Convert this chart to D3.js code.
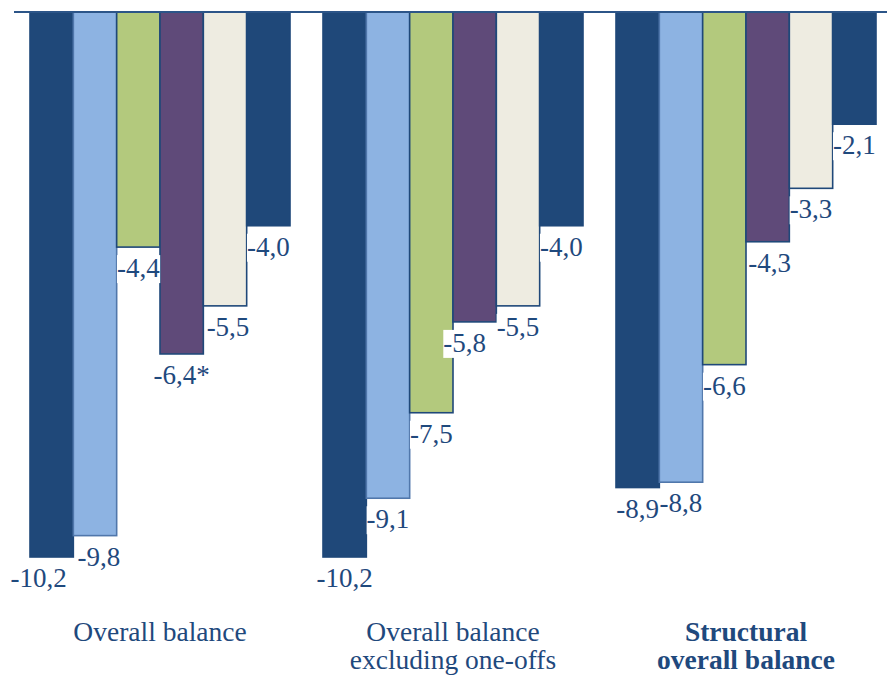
<!DOCTYPE html>
<html>
<head>
<meta charset="utf-8">
<script src="https://cdn.jsdelivr.net/npm/d3@7/dist/d3.min.js"></script>
<style>
  html, body { margin: 0; padding: 0; background: #ffffff; }
  svg { display: block; }
</style>
</head>
<body>
<svg id="chart" width="887" height="676"></svg>
<script>
// Balance measures, per cent of GDP
const groups = ["Overall balance", "Overall balance excluding one-offs", "Structural overall balance"];
const groupLines = [["Overall balance"], ["Overall balance", "excluding one-offs"], ["Structural", "overall balance"]];
const groupBold = [false, false, true];

// six series per group, in draw order
const series1 = [-10.2, -10.2, -8.9];
const series2 = [-9.8, -9.1, -8.8];
const series3 = [-4.4, -7.5, -6.6];
const series4 = [-6.4, -5.8, -4.3];
const series5 = [-5.5, -5.5, -3.3];
const series6 = [-4.0, -4.0, -2.1];
const seriesValues = [series1, series2, series3, series4, series5, series6];
// footnote markers attached to individual labels
const labelNotes = [["", "", ""], ["", "", ""], ["", "", ""], ["*", "", ""], ["", "", ""], ["", "", ""]];

const colors = ["#1f4879", "#8db3e2", "#b3c97d", "#5f4a79", "#eeece1", "#1f4879"];
const strokes = ["#1f4879", "#5077ab", "#1f4879", "#1f4879", "#1f4879", "#1f4879"];
const textColor = "#1f497d";
const font = "'Liberation Serif', 'Times New Roman', serif";

const svg = d3.select("#chart");

const x0 = d3.scaleBand().domain(groups).range([13.5, 892.5])
  .paddingInner(0.1126).paddingOuter(0.0563);
const x1 = d3.scaleBand().domain(d3.range(seriesValues.length)).range([0, x0.bandwidth()]);
const y = d3.scaleLinear().domain([0, -10.2]).range([12, 557]);

const fmt = v => d3.format(".1f")(v).replace(".", ",").replace("−", "-");

// small label nudges where labels are moved off neighbouring bars
const nudge = { "0-0": -13, "1-0": 4, "4-0": 3, "3-1": -10, "3-2": 2 };

const gBars = svg.append("g");
const gLabels = svg.append("g");

groups.forEach((g, gi) => {
  seriesValues.forEach((vals, si) => {
    const v = vals[gi];
    const bx = x0(g) + x1(si);
    gBars.append("rect")
      .attr("x", bx)
      .attr("y", y(0))
      .attr("width", x1.bandwidth())
      .attr("height", y(v) - y(0))
      .attr("fill", colors[si])
      .attr("stroke", strokes[si])
      .attr("stroke-width", 1.6);
  });
});

// zero line
svg.append("line")
  .attr("x1", 14).attr("x2", 887)
  .attr("y1", y(0)).attr("y2", y(0))
  .attr("stroke", "#2c5588").attr("stroke-width", 2);

// value labels with white backing
groups.forEach((g, gi) => {
  seriesValues.forEach((vals, si) => {
    const v = vals[gi];
    const cx = x0(g) + x1(si) + x1.bandwidth() / 2 + (nudge[si + "-" + gi] || 0);
    const lg = gLabels.append("g");
    const t = lg.append("text")
      .attr("x", cx)
      .attr("y", y(v) + 30)
      .attr("text-anchor", "middle")
      .attr("font-family", font)
      .attr("font-size", 27)
      .attr("fill", textColor)
      .text(fmt(v) + labelNotes[si][gi]);
    const bb = t.node().getBBox();
    lg.insert("rect", "text")
      .attr("x", bb.x).attr("y", bb.y + 2)
      .attr("width", bb.width).attr("height", bb.height - 2)
      .attr("fill", "#ffffff");
  });
});

// category labels
groups.forEach((g, gi) => {
  const t = svg.append("text")
    .attr("x", x0(g) + x0.bandwidth() / 2)
    .attr("y", 641)
    .attr("text-anchor", "middle")
    .attr("font-family", font)
    .attr("font-size", 27.5)
    .attr("font-weight", groupBold[gi] ? "bold" : "normal")
    .attr("fill", textColor);
  groupLines[gi].forEach((line, li) => {
    t.append("tspan")
      .attr("x", x0(g) + x0.bandwidth() / 2)
      .attr("dy", li === 0 ? 0 : 28)
      .text(line);
  });
});
</script>
</body>
</html>
